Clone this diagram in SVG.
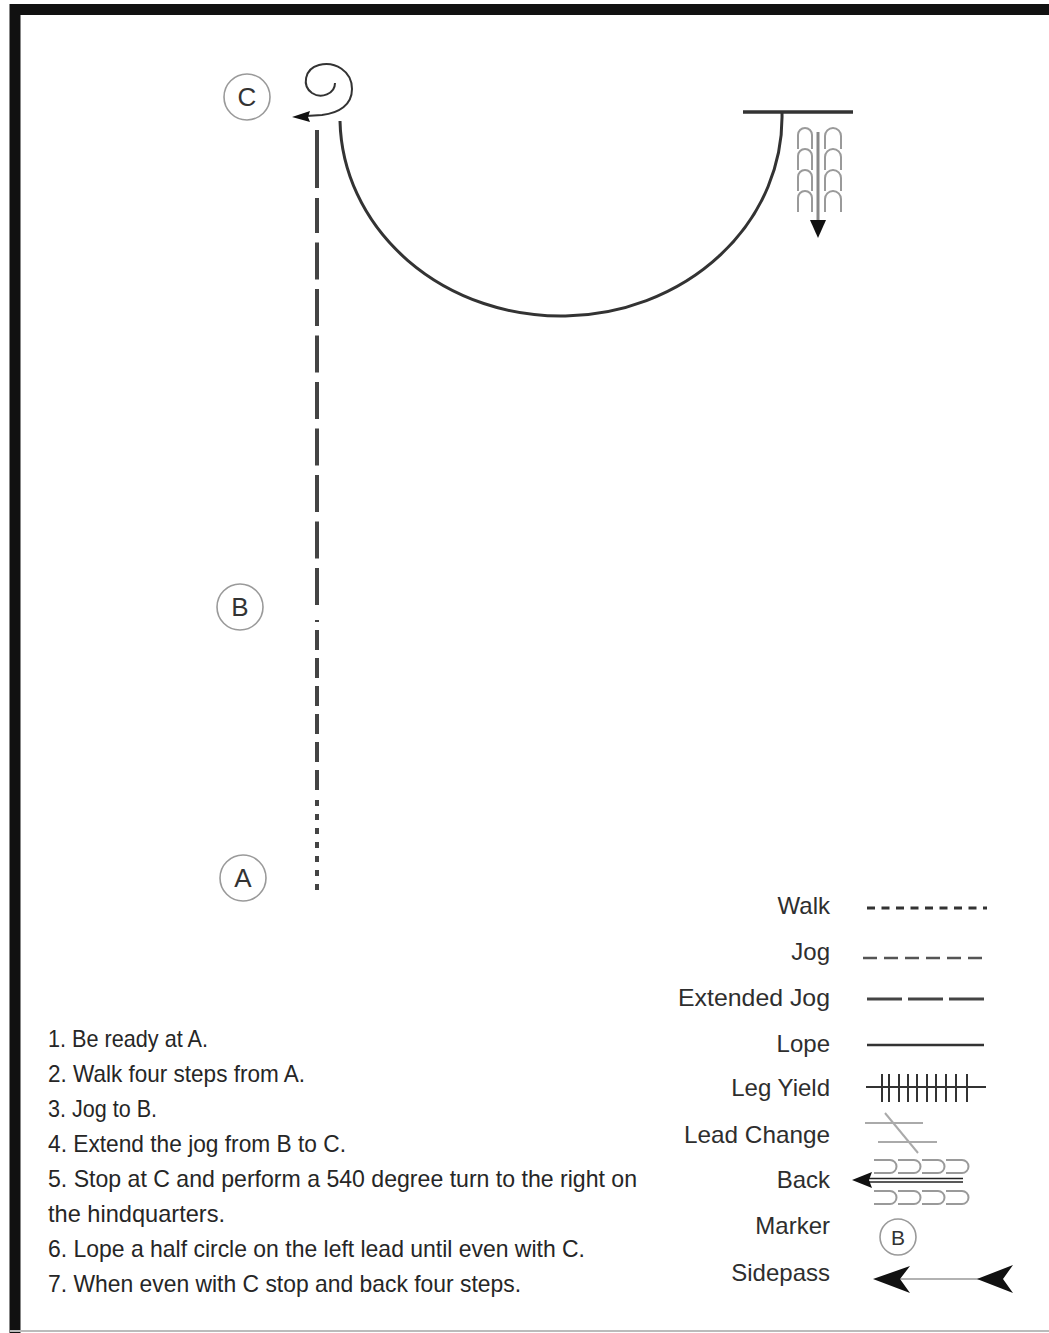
<svg xmlns="http://www.w3.org/2000/svg" width="1049" height="1333" viewBox="0 0 1049 1333">
<style>
.txt{font-family:"Liberation Sans",Arial,sans-serif;font-size:24px;fill:#262626}
.lbl{font-family:"Liberation Sans",Arial,sans-serif;font-size:24px;fill:#2e2e2e;text-anchor:end}
.mk{fill:#fff;stroke:#9a9a9a;stroke-width:1.6}
.mkt{font-family:"Liberation Sans",Arial,sans-serif;font-size:26px;fill:#333;text-anchor:middle}
.path{fill:none;stroke:#333;stroke-width:3}
.arch{fill:none;stroke:#9a9a9a;stroke-width:2}
.dash{fill:none;stroke:#444;stroke-width:4}
</style>
<rect x="0" y="0" width="1049" height="1333" fill="#fff"/>
<g id="border">
<path d="M15,1333 V9.5 H1049" fill="none" stroke="#111" stroke-width="11"/>
<line x1="10" y1="1331" x2="1049" y2="1331" stroke="#bbb" stroke-width="2"/>
</g>
<g id="connectors">
<line id="walk-A" x1="317" y1="890" x2="317" y2="796" class="dash" stroke-dasharray="6 8"/>
<line id="jog-AB" x1="317" y1="790" x2="317" y2="620" class="dash" stroke-dasharray="20 8"/>
<line id="extjog-1" x1="317" y1="605" x2="317" y2="198" class="dash" stroke-dasharray="37 9.5"/>
<line id="extjog-2" x1="317" y1="130" x2="317" y2="188" class="dash"/>
<path id="lope" class="path" d="M340,121 A221,199 0 0 0 782,113"/>
</g>
<g id="marker-C">
<circle class="mk" cx="247" cy="97" r="23"/>
<text class="mkt" x="247" y="106">C</text>
</g>
<g id="marker-B">
<circle class="mk" cx="240" cy="607" r="23"/>
<text class="mkt" x="240" y="616">B</text>
</g>
<g id="marker-A">
<circle class="mk" cx="243" cy="878" r="23"/>
<text class="mkt" x="243" y="887">A</text>
</g>
<g id="turn-540">
<path d="M335,83 C335,94 321,99 312,93 C302,86 304,69 319,65 C335,61 352,71 352,89 C352,105 339,113 322,115 L306,116" fill="none" stroke="#333" stroke-width="2"/>
<path d="M292,117 L310,111 L308,117 L310,122 Z" fill="#111"/>
</g>
<g id="stop">
<line x1="743" y1="112" x2="853" y2="112" stroke="#333" stroke-width="3.5"/>
</g>
<g id="back-steps">
<g class="arch">
<path d="M798,149 V135 a7,7 0 0 1 14,0 V149"/>
<path d="M798,170 V156 a7,7 0 0 1 14,0 V170"/>
<path d="M798,191 V177 a7,7 0 0 1 14,0 V191"/>
<path d="M798,212 V198 a7,7 0 0 1 14,0 V212"/>
<path d="M825,149 V136 a8,8 0 0 1 16,0 V149"/>
<path d="M825,170 V157 a8,8 0 0 1 16,0 V170"/>
<path d="M825,191 V178 a8,8 0 0 1 16,0 V191"/>
<path d="M825,212 V199 a8,8 0 0 1 16,0 V212"/>
</g>
<line x1="818" y1="132" x2="818" y2="222" stroke="#888" stroke-width="3"/>
<path d="M818,238 L810,220 L826,220 Z" fill="#111"/>
</g>
<g id="instructions">
<text class="txt" x="48" y="1047" textLength="160" lengthAdjust="spacingAndGlyphs">1. Be ready at A.</text>
<text class="txt" x="48" y="1082" textLength="257" lengthAdjust="spacingAndGlyphs">2. Walk four steps from A.</text>
<text class="txt" x="48" y="1117" textLength="109" lengthAdjust="spacingAndGlyphs">3. Jog to B.</text>
<text class="txt" x="48" y="1152" textLength="298" lengthAdjust="spacingAndGlyphs">4. Extend the jog from B to C.</text>
<text class="txt" x="48" y="1187" textLength="589" lengthAdjust="spacingAndGlyphs">5. Stop at C and perform a 540 degree turn to the right on</text>
<text class="txt" x="48" y="1222" textLength="177" lengthAdjust="spacingAndGlyphs">the hindquarters.</text>
<text class="txt" x="48" y="1257" textLength="537" lengthAdjust="spacingAndGlyphs">6. Lope a half circle on the left lead until even with C.</text>
<text class="txt" x="48" y="1292" textLength="473" lengthAdjust="spacingAndGlyphs">7.  When even with C stop and back four steps.</text>
</g>
<g id="legend">
<text class="lbl" x="830" y="914">Walk</text>
<text class="lbl" x="830" y="960">Jog</text>
<text class="lbl" x="830" y="1006" textLength="152" lengthAdjust="spacingAndGlyphs">Extended Jog</text>
<text class="lbl" x="830" y="1052">Lope</text>
<text class="lbl" x="830" y="1096">Leg Yield</text>
<text class="lbl" x="830" y="1143" textLength="146" lengthAdjust="spacingAndGlyphs">Lead Change</text>
<text class="lbl" x="830" y="1188">Back</text>
<text class="lbl" x="830" y="1234">Marker</text>
<text class="lbl" x="830" y="1281">Sidepass</text>
<line x1="867" y1="908" x2="987" y2="908" stroke="#333" stroke-width="3" stroke-dasharray="8 6.5"/>
<line x1="863" y1="958" x2="983" y2="958" stroke="#555" stroke-width="2.5" stroke-dasharray="14 7"/>
<line x1="867" y1="999" x2="984" y2="999" stroke="#444" stroke-width="3" stroke-dasharray="35 6"/>
<line x1="867" y1="1045" x2="984" y2="1045" stroke="#333" stroke-width="2.5"/>
<g id="leg-yield" stroke="#333" stroke-width="2">
<line x1="866" y1="1087" x2="986" y2="1087"/>
<path d="M882,1074 V1102 M889,1074 V1102 M899,1074 V1102 M908,1074 V1102 M917,1074 V1102 M927,1074 V1102 M936,1074 V1102 M946,1074 V1102 M956,1074 V1102 M967,1074 V1102"/>
</g>
<g id="lead-change" stroke="#aaa" stroke-width="2">
<line x1="865" y1="1123" x2="923" y2="1123"/>
<line x1="878" y1="1142" x2="937" y2="1142"/>
<line x1="885" y1="1113" x2="918" y2="1153"/>
</g>
<g id="back-legend">
<g class="arch">
<path d="M874,1160 h16 a6.5,6.5 0 0 1 0,13 h-16"/>
<path d="M898,1160 h16 a6.5,6.5 0 0 1 0,13 h-16"/>
<path d="M922,1160 h16 a6.5,6.5 0 0 1 0,13 h-16"/>
<path d="M946,1160 h16 a6.5,6.5 0 0 1 0,13 h-16"/>
<path d="M874,1191 h16 a6.5,6.5 0 0 1 0,13 h-16"/>
<path d="M898,1191 h16 a6.5,6.5 0 0 1 0,13 h-16"/>
<path d="M922,1191 h16 a6.5,6.5 0 0 1 0,13 h-16"/>
<path d="M946,1191 h16 a6.5,6.5 0 0 1 0,13 h-16"/>
</g>
<line x1="866" y1="1178.5" x2="963" y2="1178.5" stroke="#222" stroke-width="1.5"/>
<line x1="866" y1="1182" x2="963" y2="1182" stroke="#222" stroke-width="1.5"/>
<path d="M852,1180 L872,1172 L869,1180 L872,1188 Z" fill="#111"/>
</g>
<g id="marker-legend">
<circle class="mk" cx="898" cy="1237" r="18"/>
<text class="mkt" x="898" y="1245" style="font-size:21px">B</text>
</g>
<g id="sidepass">
<line x1="895" y1="1279" x2="1000" y2="1279" stroke="#999" stroke-width="1.5"/>
<path d="M873,1279 L910,1266 L900,1279 L910,1293 Z" fill="#111"/>
<path d="M977,1279 L1013,1265 L1003,1279 L1013,1293 Z" fill="#111"/>
</g>
</g>
</svg>
